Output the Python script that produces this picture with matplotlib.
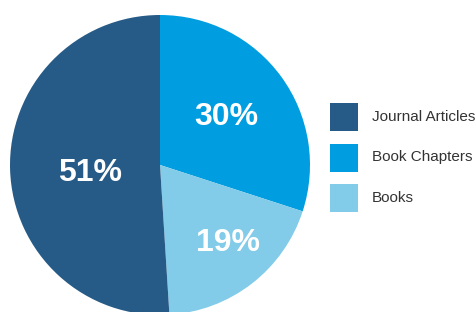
import numpy as np
import matplotlib
matplotlib.use("Agg")
import matplotlib.pyplot as plt
from matplotlib.patches import Rectangle
from matplotlib.transforms import Affine2D

plt.rcParams['font.family'] = ['Liberation Sans', 'DejaVu Sans']

# Data (drawing order: clockwise from 12 o'clock)
categories = ["Book Chapters", "Books", "Journal Articles"]
values = [30, 19, 51]
pct_labels = ["30%", "19%", "51%"]
legend_order = ["Journal Articles", "Book Chapters", "Books"]

colors = {"Journal Articles": "#265B87", "Book Chapters": "#009EE0", "Books": "#82CBE9"}
label_dist = [0.55, 0.69, 0.47]
label_ang_off = [0, 3, 5]

W, H = 477, 312
fig = plt.figure(figsize=(W / 100, H / 100), dpi=100)
fig.patch.set_facecolor("white")

cx, cy, r = 160, 165, 150
ax = fig.add_axes([(cx - r) / W, (H - cy - r) / H, 2 * r / W, 2 * r / H])
wedges, _ = ax.pie(values, colors=[colors[c] for c in categories], startangle=90,
                   counterclock=False, radius=1,
                   wedgeprops=dict(linewidth=0))
ax.set_xlim(-1, 1)
ax.set_ylim(-1, 1)
ax.set_aspect("equal")
ax.axis("off")

for w, txt, d, off in zip(wedges, pct_labels, label_dist, label_ang_off):
    ang = np.deg2rad((w.theta1 + w.theta2) / 2 + off)
    ax.text(d * np.cos(ang), d * np.sin(ang), txt, ha="center", va="center",
            color="white", fontsize=23, fontweight="bold")

# Legend drawn in figure pixel coordinates (top-left origin)
pix = Affine2D().scale(1 / W, -1 / H).translate(0, 1) + fig.transFigure
box_x, box_y0, box_size, pitch = 330, 103, 28, 40.5
for i, name in enumerate(legend_order):
    y = box_y0 + i * pitch
    fig.patches.append(Rectangle((box_x, y), box_size, box_size, transform=pix,
                                 facecolor=colors[name], edgecolor="none"))
    fig.text(box_x + box_size + 14, y + box_size / 2, name, transform=pix,
             ha="left", va="center", fontsize=11, color="#333333")

fig.savefig("out.png", dpi=100)
